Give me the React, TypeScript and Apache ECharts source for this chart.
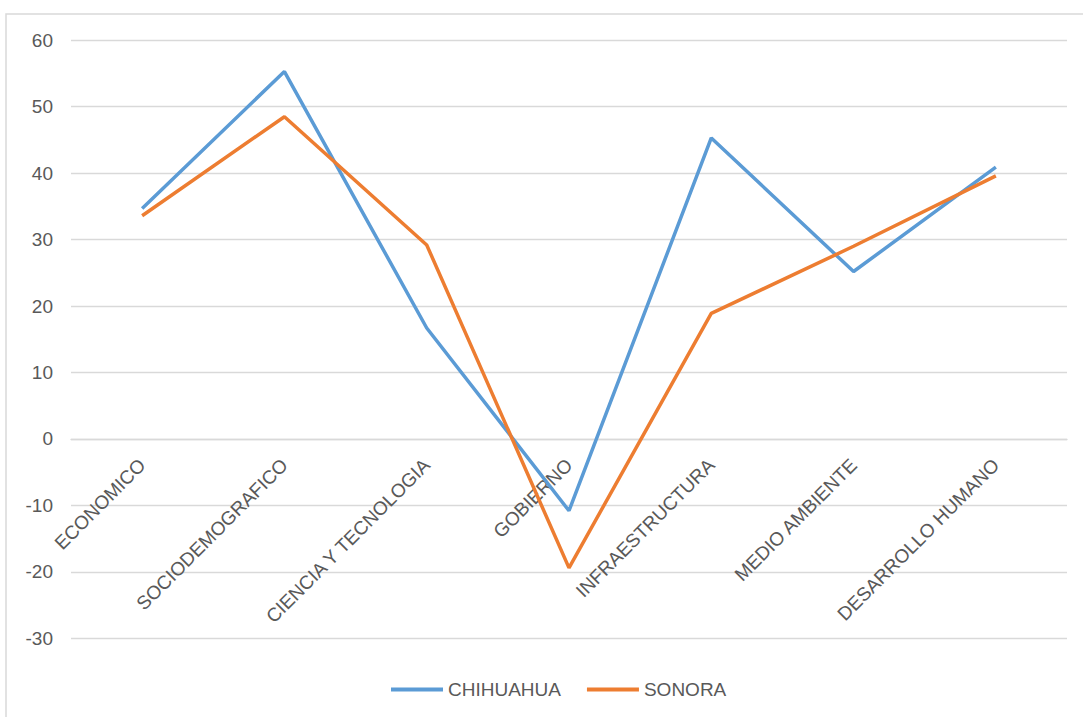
import React, { useEffect, useRef } from "react";
import * as echarts from "echarts";

const categories = [
  "ECONOMICO",
  "SOCIODEMOGRAFICO",
  "CIENCIA Y TECNOLOGIA",
  "GOBIERNO",
  "INFRAESTRUCTURA",
  "MEDIO AMBIENTE",
  "DESARROLLO HUMANO",
];
const chihuahua = [34.7, 55.3, 16.7, -10.8, 45.3, 25.2, 40.9];
const sonora = [33.6, 48.5, 29.2, -19.4, 18.9, 29.0, 39.6];
const seriesNames = ["CHIHUAHUA", "SONORA"];

const FONT = "Liberation Sans";
const TEXT = "#595959";

export default function App() {
  const ref = useRef<HTMLDivElement>(null);
  useEffect(() => {
    if (!ref.current) return;
    const chart = echarts.init(ref.current, null, { renderer: "svg" });
    chart.setOption({
      animation: false,
      backgroundColor: "#ffffff",
      graphic: [
        {
          type: "rect",
          shape: { x: 6, y: 14, width: 1200, height: 800 },
          style: { fill: "none", stroke: "#d9d9d9", lineWidth: 1.5 },
          silent: true,
        },
      ],
      grid: {
        left: 71,
        right: 16,
        top: 40.3,
        bottom: 78.7,
        containLabel: false,
        outerBoundsMode: "none",
      },
      legend: {
        left: 386,
        top: 675,
        icon: "rect",
        itemWidth: 52,
        itemHeight: 4,
        itemGap: 26,
        textStyle: { color: TEXT, fontSize: 19, fontFamily: FONT },
        data: seriesNames,
      },
      xAxis: {
        type: "category",
        data: categories,
        boundaryGap: true,
        position: "bottom",
        offset: -199.3,
        axisLine: { show: true, onZero: false, lineStyle: { color: "#d9d9d9", width: 1.3 } },
        axisTick: { show: false },
        splitLine: { show: false },
        axisLabel: {
          rotate: 45,
          interval: 0,
          margin: 23,
          verticalAlign: "middle",
          color: TEXT,
          fontSize: 19,
          fontFamily: FONT,
        },
      },
      yAxis: {
        type: "value",
        min: -30,
        max: 60,
        interval: 10,
        axisLine: { show: false },
        axisTick: { show: false },
        splitLine: { lineStyle: { color: "#d9d9d9", width: 1.3 } },
        axisLabel: { margin: 18, color: TEXT, fontSize: 19, fontFamily: FONT },
      },
      series: [
        {
          name: seriesNames[0],
          type: "line",
          data: chihuahua,
          showSymbol: false,
          symbol: "none",
          lineStyle: { color: "#5B9BD5", width: 3.5 },
          itemStyle: { color: "#5B9BD5" },
        },
        {
          name: seriesNames[1],
          type: "line",
          data: sonora,
          showSymbol: false,
          symbol: "none",
          lineStyle: { color: "#ED7D31", width: 3.5 },
          itemStyle: { color: "#ED7D31" },
        },
      ],
    });
    return () => chart.dispose();
  }, []);
  return (
    <div
      ref={ref}
      style={{ position: "fixed", left: 0, top: 0, width: 1083, height: 717 }}
    />
  );
}
